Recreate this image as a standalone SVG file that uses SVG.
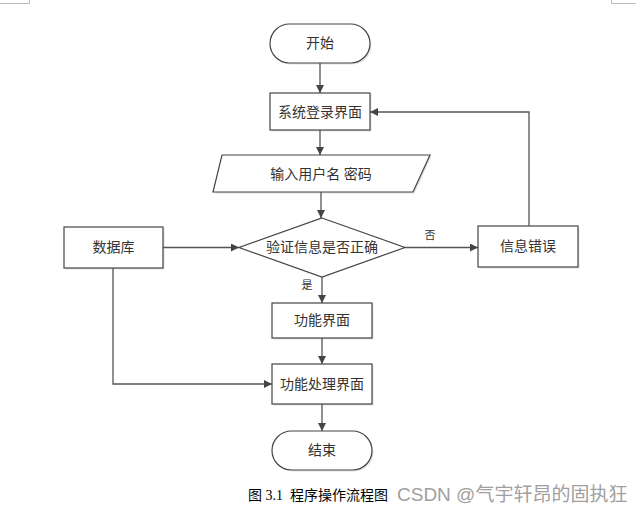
<svg xmlns="http://www.w3.org/2000/svg" width="643" height="510" viewBox="0 0 643 510">
<style>
.n{fill:#fff;stroke:#444;stroke-width:1.2}
.sh{fill:#e2e2e2;stroke:none}
.t{font-family:"Liberation Serif","Noto Sans CJK SC",serif;font-size:14px;fill:#333;text-anchor:middle;dominant-baseline:central}
.s{font-family:"Liberation Serif","Noto Sans CJK SC",serif;font-size:11px;fill:#333;text-anchor:middle;dominant-baseline:central}
.c{fill:none;stroke:#555;stroke-width:1.3}
.m{fill:none;stroke:#bbb;stroke-width:1}
</style>
<defs>
<marker id="a" viewBox="0 0 10 10" refX="10" refY="5" markerWidth="8" markerHeight="8" markerUnits="userSpaceOnUse" orient="auto">
<path d="M0,0 L10,5 L0,10 z" fill="#444"/>
</marker>
</defs>
<rect width="643" height="510" fill="#fff"/>
<path class="m" d="M0,3.5 H29.5 V0 M611.5,0 V3.5 H636"/>
<g id="start"><rect class="sh" x="271.5" y="25.5" width="100" height="39" rx="19.5"/><rect class="n" x="270" y="24" width="100" height="39" rx="19.5"/><text class="t" x="320" y="43.5">开始</text></g>
<g id="login"><rect class="sh" x="271.5" y="94.5" width="100" height="37"/><rect class="n" x="270" y="93" width="100" height="37"/><text class="t" x="320" y="112">系统登录界面</text></g>
<g id="input"><polygon class="sh" points="223.5,156.5 431.5,156.5 414.5,193.5 214.5,193.5"/><polygon class="n" points="222,155 430,155 413,192 213,192"/><text class="t" x="321" y="174">输入用户名 密码</text></g>
<g id="verify"><polygon class="n" points="322,218 405,247.5 322,277 239,247.5"/><text class="t" x="322" y="247.5">验证信息是否正确</text></g>
<g id="db"><rect class="sh" x="65.5" y="228.5" width="99" height="41"/><rect class="n" x="64" y="227" width="99" height="41"/><text class="t" x="113.5" y="247.5">数据库</text></g>
<g id="err"><rect class="sh" x="479.5" y="227.5" width="100" height="41"/><rect class="n" x="478" y="226" width="100" height="41"/><text class="t" x="528" y="246.5">信息错误</text></g>
<g id="func"><rect class="sh" x="273.5" y="304.5" width="100" height="35"/><rect class="n" x="272" y="303" width="100" height="35"/><text class="t" x="322" y="320.5">功能界面</text></g>
<g id="proc"><rect class="sh" x="273.5" y="365.5" width="100" height="40"/><rect class="n" x="272" y="364" width="100" height="40"/><text class="t" x="322" y="384">功能处理界面</text></g>
<g id="end"><rect class="sh" x="273.5" y="432.5" width="100" height="39" rx="19.5"/><rect class="n" x="272" y="431" width="100" height="39" rx="19.5"/><text class="t" x="322" y="450.5">结束</text></g>
<g id="connectors">
<path class="c" d="M320,63 V93" marker-end="url(#a)"/>
<path class="c" d="M320,130 V155" marker-end="url(#a)"/>
<path class="c" d="M321,192 V218" marker-end="url(#a)"/>
<path class="c" d="M322,277 V303" marker-end="url(#a)"/>
<path class="c" d="M322,338 V364" marker-end="url(#a)"/>
<path class="c" d="M322,404 V431" marker-end="url(#a)"/>
<path class="c" d="M163,247.5 H239" marker-end="url(#a)"/>
<path class="c" d="M405,247.5 H478" marker-end="url(#a)"/>
<path class="c" d="M529,226 V112 H370" marker-end="url(#a)"/>
<path class="c" d="M113,268 V384 H272" marker-end="url(#a)"/>
<text class="s" x="430" y="235">否</text>
<text class="s" x="307" y="285">是</text>
</g>
<text x="248" y="500" xml:space="preserve" style="font-family:'Liberation Serif','Noto Sans CJK SC',serif;font-size:14px;fill:#000">图 3.1  程序操作流程图</text>
<text x="397" y="501" style="font-family:'Liberation Sans','Noto Sans CJK SC',sans-serif;font-size:19px;fill:#a0a0a0">CSDN @气宇轩昂的固执狂</text>
</svg>
